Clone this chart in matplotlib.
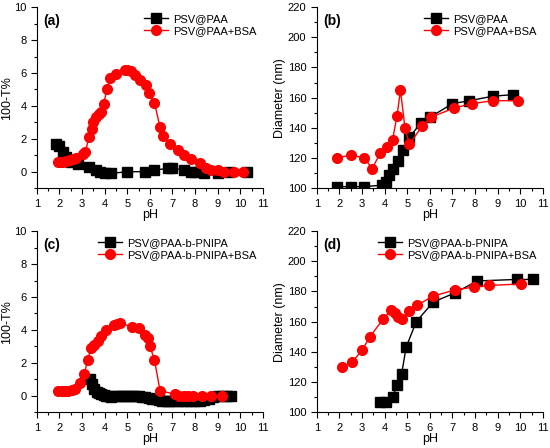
import matplotlib
matplotlib.use("Agg")
import matplotlib.pyplot as plt
from matplotlib.ticker import MultipleLocator

plt.rcParams['font.family'] = ['Liberation Sans', 'DejaVu Sans']

# (a) transmittance, PSV@PAA
a_blk_x = [1.85, 2.0, 2.15, 2.3, 2.5, 2.8, 3.3, 3.6, 3.8, 4.0, 4.3, 5.0, 5.8, 6.2, 6.8, 7.0, 7.5, 7.8, 8.0, 8.4, 9.0, 9.5, 10.3]
a_blk_y = [1.7, 1.55, 1.2, 0.9, 0.6, 0.45, 0.3, 0.1, 0.0, -0.1, -0.1, 0.0, 0.0, 0.1, 0.2, 0.2, 0.1, 0.0, 0.0, -0.1, -0.1, 0.0, 0.0]
a_red_x = [1.95, 2.05, 2.15, 2.3, 2.45, 2.6, 2.75, 3.05, 3.15, 3.3, 3.45, 3.5, 3.6, 3.75, 3.85, 3.95, 4.1, 4.25,
           4.5, 4.9, 5.0, 5.15, 5.35, 5.55, 5.85, 5.95, 6.2, 6.45, 6.6, 6.9, 7.25, 7.5, 7.8, 8.2, 8.5, 8.7, 9.0, 9.3, 9.7, 10.1]
a_red_y = [0.6, 0.6, 0.6, 0.65, 0.7, 0.75, 0.85, 1.1, 1.2, 2.1, 2.6, 3.0, 3.3, 3.5, 3.6, 4.1, 5.0, 5.7,
           5.95, 6.2, 6.2, 6.1, 5.9, 5.6, 5.3, 4.8, 4.2, 2.7, 2.2, 1.7, 1.3, 1.0, 0.8, 0.5, 0.2, 0.1, 0.1, 0.0, 0.0, 0.0]

# (b) diameter, PSV@PAA
b_blk_x = [1.9, 2.5, 3.1, 3.9, 4.05, 4.2, 4.35, 4.6, 4.8, 5.1, 5.6, 6.0, 7.0, 7.75, 8.8, 9.7]
b_blk_y = [101, 101, 101, 102, 104, 109, 113, 118, 125, 134, 143, 147, 156, 158, 161, 162]
b_red_x = [1.9, 2.5, 3.1, 3.45, 3.8, 4.1, 4.35, 4.55, 4.7, 4.9, 5.1, 5.65, 6.05, 7.05, 7.85, 8.8, 9.9]
b_red_y = [120, 122, 120, 113, 123, 127, 132, 148, 165, 140, 129, 141, 147, 153, 156, 158, 158]

# (c) transmittance, PSV@PAA-b-PNIPA
c_blk_x = [3.35, 3.45, 3.55, 3.65, 3.75, 3.85, 3.95, 4.05, 4.15, 4.3, 4.45, 4.6, 4.75, 4.9, 5.05, 5.2, 5.35, 5.5,
           5.65, 5.8, 5.95, 6.1, 6.25, 6.4, 6.55, 6.7, 6.85, 7.0, 7.2, 7.4, 7.6, 7.8, 8.0, 8.2, 8.4, 8.6, 8.8, 9.0, 9.2, 9.4, 9.6]
c_blk_y = [1.0, 0.7, 0.4, 0.25, 0.15, 0.1, 0.05, 0.0, 0.0, -0.1, 0.0, 0.0, 0.0, 0.0, 0.0, 0.0, 0.0, 0.0,
           -0.05, -0.1, -0.15, -0.2, -0.2, -0.25, -0.3, -0.3, -0.3, -0.3, -0.3, -0.3, -0.3, -0.3, -0.3, -0.3, -0.25, -0.2, -0.1, 0.0, 0.0, 0.0, 0.0]
c_red_x = [1.95, 2.1, 2.25, 2.4, 2.55, 2.7, 2.9, 3.1, 3.25, 3.4, 3.55, 3.7, 3.85, 4.05, 4.4, 4.55, 4.7, 5.2, 5.5,
           5.8, 5.9, 6.0, 6.2, 6.45, 7.1, 7.3, 7.5, 7.7, 7.9, 8.3, 8.7, 9.2]
c_red_y = [0.3, 0.3, 0.3, 0.3, 0.35, 0.4, 0.8, 1.3, 2.2, 2.9, 3.1, 3.3, 3.6, 4.0, 4.3, 4.35, 4.4, 4.2, 4.1,
           3.7, 3.5, 3.0, 2.2, 0.3, 0.1, 0.0, 0.0, 0.0, 0.0, 0.0, 0.0, 0.0]

# (d) diameter, PSV@PAA-b-PNIPA
d_blk_x = [3.8, 4.05, 4.35, 4.55, 4.75, 4.95, 5.4, 6.15, 7.1, 8.1, 9.85, 10.55]
d_blk_y = [107, 107, 110, 118, 125, 143, 160, 173, 179, 187, 188, 188]
d_red_x = [2.1, 2.55, 3.0, 3.35, 3.95, 4.3, 4.45, 4.6, 4.75, 5.1, 5.45, 6.15, 7.1, 7.95, 8.6, 10.05]
d_red_y = [130, 133, 141, 150, 162, 168, 166, 163, 162, 167, 171, 177, 181, 183, 184, 185]

fig = plt.figure(figsize=(5.5, 4.48), dpi=100)
boxes = [
    [0.067, 0.58, 0.411, 0.404],
    [0.576, 0.58, 0.411, 0.404],
    [0.067, 0.08, 0.411, 0.404],
    [0.576, 0.08, 0.411, 0.404],
]
panels = [
    ('(a)', a_blk_x, a_blk_y, a_red_x, a_red_y, 'PSV@PAA', 'PSV@PAA+BSA', '100-T%', (-1, 10), 2, 1),
    ('(b)', b_blk_x, b_blk_y, b_red_x, b_red_y, 'PSV@PAA', 'PSV@PAA+BSA', 'Diameter (nm)', (100, 220), 20, 10),
    ('(c)', c_blk_x, c_blk_y, c_red_x, c_red_y, 'PSV@PAA-b-PNIPA', 'PSV@PAA-b-PNIPA+BSA', '100-T%', (-1, 10), 2, 1),
    ('(d)', d_blk_x, d_blk_y, d_red_x, d_red_y, 'PSV@PAA-b-PNIPA', 'PSV@PAA-b-PNIPA+BSA', 'Diameter (nm)', (100, 220), 20, 10),
]

for box, (tag, bx, by, rx, ry, lb, lr, ylab, ylim, ymaj, ymin) in zip(boxes, panels):
    ax = fig.add_axes(box)
    ax.plot(bx, by, '-s', color='black', ms=6.5, lw=1, label=lb)
    ax.plot(rx, ry, '-o', color='red', ms=7, lw=1, label=lr)
    ax.set_xlim(1, 11)
    ax.set_ylim(*ylim)
    ax.xaxis.set_major_locator(MultipleLocator(1))
    ax.xaxis.set_minor_locator(MultipleLocator(0.5))
    ax.yaxis.set_major_locator(MultipleLocator(ymaj))
    ax.yaxis.set_minor_locator(MultipleLocator(ymin))
    ax.spines['top'].set_visible(False)
    ax.spines['right'].set_visible(False)
    ax.tick_params(which='both', direction='out', labelsize=8, width=0.8)
    ax.tick_params(which='major', length=4)
    ax.tick_params(which='minor', length=2)
    ax.set_xlabel('pH', fontsize=9, labelpad=0)
    ax.set_ylabel(ylab, fontsize=9, labelpad=1)
    ax.text(0.03, 0.96, tag, transform=ax.transAxes, fontsize=10, fontweight='bold', va='top')
    ax.legend(loc='upper right', frameon=False, fontsize=8, handlelength=2.2,
              borderaxespad=0.2, labelspacing=0.2, handletextpad=0.4)

fig.savefig('out.png', dpi=100)
